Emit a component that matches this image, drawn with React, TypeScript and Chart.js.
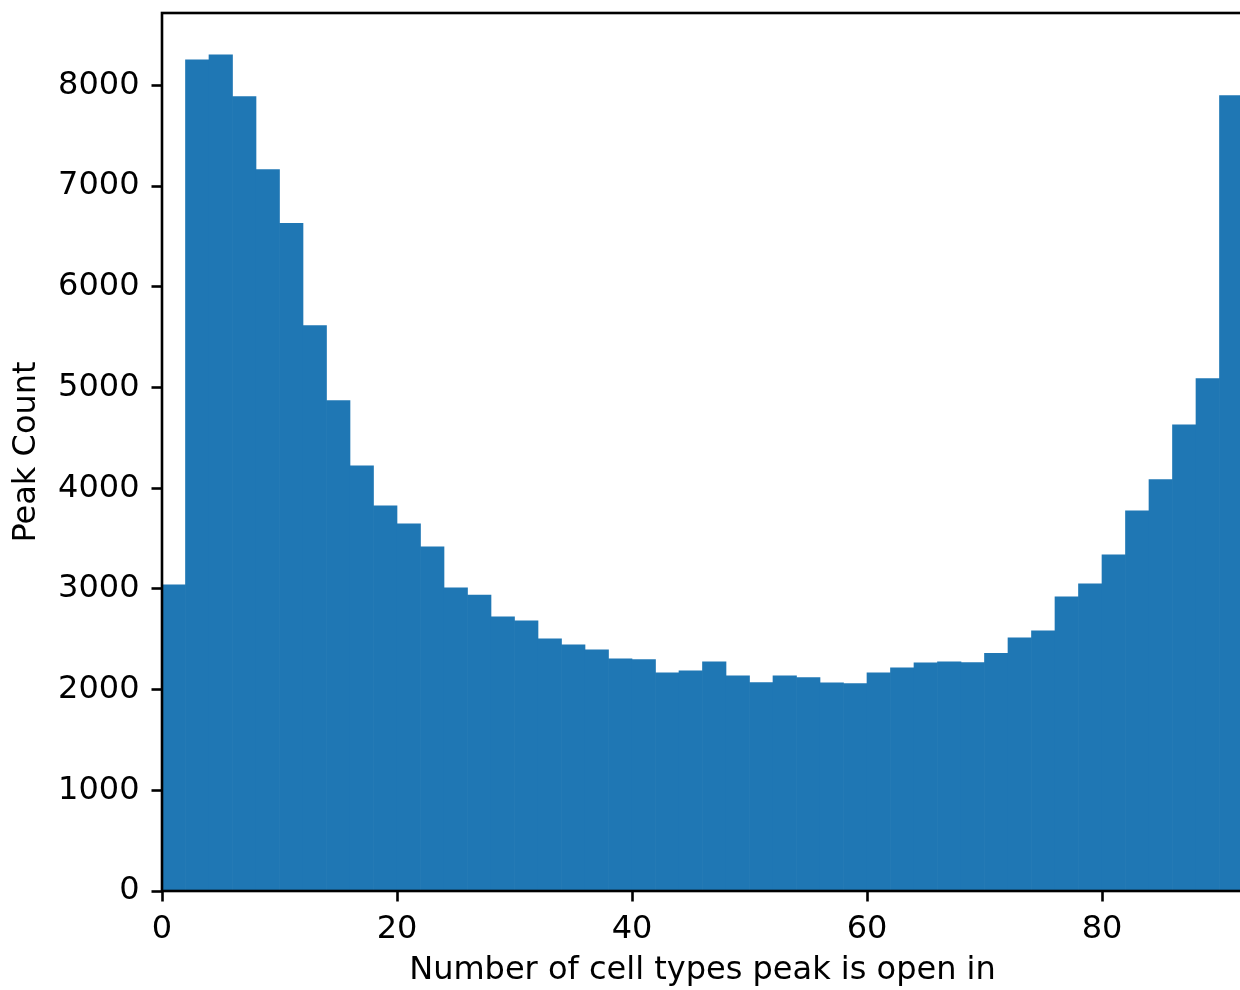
import React, { useEffect, useRef } from "react";
import { Chart, registerables, ChartConfiguration, Plugin } from "chart.js";

Chart.register(...registerables);

// histogram bins (left edge of each bin, width 2)
const binLefts = [
  0, 2, 4, 6, 8, 10, 12, 14, 16, 18, 20, 22, 24, 26, 28, 30, 32, 34, 36, 38, 40, 42, 44,
  46, 48, 50, 52, 54, 56, 58, 60, 62, 64, 66, 68, 70, 72, 74, 76, 78, 80, 82, 84, 86, 88, 90,
];
const binWidth = 2;
const peakCounts = [
  3040, 8255, 8305, 7890, 7165, 6630, 5615, 4870, 4222, 3826, 3647, 3419, 3011, 2940, 2723,
  2683, 2504, 2445, 2395, 2306, 2298, 2167, 2186, 2276, 2137, 2070, 2137, 2120, 2067, 2060,
  2167, 2216, 2266, 2276, 2268, 2360, 2514, 2584, 2922, 3051, 3339, 3776, 4085, 4631, 5088,
  7900,
];
const xTicks = [0, 20, 40, 60, 80];
const yTicks = [0, 1000, 2000, 3000, 4000, 5000, 6000, 7000, 8000];

const FONT = "'DejaVu Sans', sans-serif";
const FONT_SIZE = 32;
const BAR_COLOR = "#1f77b4";

const framePlugin: Plugin<"bar"> = {
  id: "frame",
  afterDraw(chart) {
    const { ctx, chartArea } = chart;
    ctx.save();
    ctx.strokeStyle = "#000";
    ctx.lineWidth = 2.6;
    ctx.strokeRect(
      chartArea.left,
      chartArea.top,
      chartArea.right - chartArea.left,
      chartArea.bottom - chartArea.top
    );
    ctx.restore();
  },
};

export default function App() {
  const canvasRef = useRef<HTMLCanvasElement | null>(null);

  useEffect(() => {
    document.body.style.margin = "0";
    if (!canvasRef.current) return;
    const ctx = canvasRef.current.getContext("2d");
    if (!ctx) return;

    const data = binLefts.map((left, i) => ({ x: left + binWidth / 2, y: peakCounts[i] }));

    const config: ChartConfiguration<"bar", { x: number; y: number }[]> = {
      type: "bar",
      data: {
        datasets: [
          {
            data,
            backgroundColor: BAR_COLOR,
            borderWidth: 0,
            barPercentage: 1,
            categoryPercentage: 1,
            grouped: false,
          },
        ],
      },
      options: {
        animation: false,
        responsive: false,
        layout: { padding: { left: 0, top: 13, right: 7, bottom: 0 } },
        plugins: {
          legend: { display: false },
          tooltip: { enabled: false },
        },
        scales: {
          x: {
            type: "linear",
            min: 0,
            max: 92,
            offset: false,
            afterFit: (scale) => {
              scale.height = 99;
              scale.paddingLeft = 0;
              scale.paddingRight = 0;
            },
            afterBuildTicks: (scale) => {
              scale.ticks = xTicks.map((v) => ({ value: v }));
            },
            border: { display: false },
            grid: {
              offset: false,
              drawOnChartArea: false,
              drawTicks: true,
              tickLength: 10.5,
              tickWidth: 2.6,
              tickColor: "#000",
            },
            ticks: {
              autoSkip: false,
              maxRotation: 0,
              padding: 9,
              color: "#000",
              font: { family: FONT, size: FONT_SIZE },
              callback: (v) => String(v),
            },
            title: {
              display: true,
              text: "Number of cell types peak is open in",
              color: "#000",
              font: { family: FONT, size: FONT_SIZE },
              padding: { top: 0, bottom: 0 },
            },
          },
          y: {
            min: 0,
            max: 8720,
            afterFit: (scale) => {
              scale.width = 162;
              scale.paddingTop = 0;
              scale.paddingBottom = 0;
            },
            afterBuildTicks: (scale) => {
              scale.ticks = yTicks.map((v) => ({ value: v }));
            },
            border: { display: false },
            grid: {
              offset: false,
              drawOnChartArea: false,
              drawTicks: true,
              tickLength: 10.5,
              tickWidth: 2.6,
              tickColor: "#000",
            },
            ticks: {
              padding: 12,
              color: "#000",
              font: { family: FONT, size: FONT_SIZE },
              callback: (v) => String(v),
            },
            title: {
              display: true,
              text: "Peak Count",
              color: "#000",
              font: { family: FONT, size: FONT_SIZE },
              padding: { top: 7, bottom: 0 },
            },
          },
        },
      },
      plugins: [framePlugin],
    };

    const chart = new Chart(ctx, config);
    return () => {
      chart.destroy();
    };
  }, []);

  return (
    <div style={{ width: 1240, height: 990, overflow: "hidden", background: "#fff" }}>
      <canvas ref={canvasRef} width={1250} height={990} style={{ display: "block" }} />
    </div>
  );
}
